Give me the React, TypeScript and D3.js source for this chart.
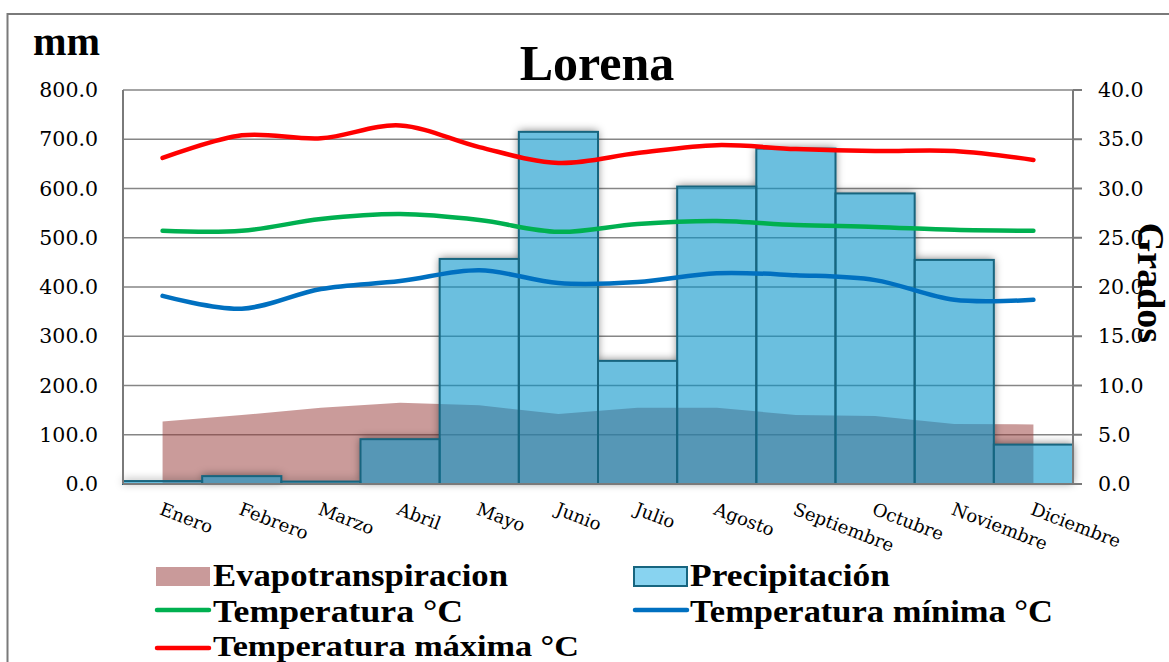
import React from "react";
import * as d3 from "d3";

// Climograma de Lorena: precipitación y evapotranspiración (mm) con temperaturas (°C)
const months = [
  "Enero", "Febrero", "Marzo", "Abril", "Mayo", "Junio",
  "Julio", "Agosto", "Septiembre", "Octubre", "Noviembre", "Diciembre",
];
const precipitacion = [6, 16, 5, 91, 457, 715, 250, 604, 681, 590, 455, 80];
const evapotranspiracion = [127, 140, 155, 165, 160, 142, 155, 155, 140, 138, 122, 121];
const tempMedia = [25.7, 25.7, 26.9, 27.4, 26.8, 25.6, 26.4, 26.7, 26.3, 26.1, 25.8, 25.7];
const tempMinima = [19.1, 17.8, 19.8, 20.6, 21.7, 20.4, 20.5, 21.4, 21.2, 20.7, 18.7, 18.7];
const tempMaxima = [33.1, 35.4, 35.1, 36.4, 34.2, 32.6, 33.6, 34.4, 34.0, 33.8, 33.8, 32.9];
const mmTicks = [0, 100, 200, 300, 400, 500, 600, 700, 800];
const gradosTicks = [0, 5, 10, 15, 20, 25, 30, 35, 40];

const W = 1169;
const H = 662;
const plot = { left: 123, right: 1073, top: 90, bottom: 484 };

const serif = "'Liberation Serif', 'Times New Roman', serif";
const numFont = "'DejaVu Serif', serif";

export default function App() {
  const x = d3
    .scaleBand<string>()
    .domain(months)
    .range([plot.left, plot.right])
    .padding(0);
  const yMm = d3.scaleLinear().domain([0, 800]).range([plot.bottom, plot.top]);
  const yC = d3.scaleLinear().domain([0, 40]).range([plot.bottom, plot.top]);
  const cx = (m: string) => (x(m) as number) + x.bandwidth() / 2;

  const area = d3
    .area<number>()
    .x((_, i) => cx(months[i]))
    .y0(yMm(0))
    .y1((d) => yMm(d));

  const line = d3
    .line<number>()
    .x((_, i) => cx(months[i]))
    .y((d) => yC(d))
    .curve(d3.curveCardinal.tension(0));

  const fmt = d3.format(".1f");

  const bars = precipitacion.map((v, i) => ({
    x: x(months[i]) as number,
    y: yMm(v),
    w: x.bandwidth(),
    h: yMm(0) - yMm(v),
  }));

  const temps = [
    { data: tempMaxima, color: "#FF0000" },
    { data: tempMedia, color: "#00B050" },
    { data: tempMinima, color: "#0070C0" },
  ];

  return (
    <svg
      width={W}
      height={H}
      style={{ position: "absolute", left: 0, top: 0, background: "#fff" }}
    >
      <defs>
        <filter id="sombra" x="-20%" y="-20%" width="140%" height="140%">
          <feGaussianBlur stdDeviation="4" />
        </filter>
        <mask id="fueraBarras" maskUnits="userSpaceOnUse" x="0" y="0" width={W} height={H}>
          <rect x={0} y={0} width={W} height={H} fill="#fff" />
          {bars.map((b, i) => (
            <rect key={i} x={b.x} y={b.y} width={b.w} height={b.h} fill="#000" />
          ))}
        </mask>
      </defs>

      {/* marco exterior */}
      <rect x={7.5} y={14} width={W + 20} height={H + 20} fill="none" stroke="#7a7a7a" strokeWidth={2} />

      {/* líneas de cuadrícula */}
      {mmTicks.map((t) => (
        <line
          key={t}
          x1={plot.left}
          x2={plot.right}
          y1={yMm(t)}
          y2={yMm(t)}
          stroke="#868686"
          strokeWidth={1.5}
        />
      ))}

      {/* evapotranspiración */}
      <path d={area(evapotranspiracion) || ""} fill="#953735" fillOpacity={0.5} />

      {/* sombra de las barras */}
      <g mask="url(#fueraBarras)">
        <g filter="url(#sombra)">
          {bars.map((b, i) => (
            <rect key={i} x={b.x} y={b.y - 1} width={b.w} height={b.h} fill="#000" fillOpacity={0.5} />
          ))}
        </g>
      </g>

      {/* precipitación */}
      {bars.map((b, i) => (
        <rect
          key={i}
          x={b.x}
          y={b.y}
          width={b.w}
          height={b.h}
          fill="rgb(8,148,202)"
          fillOpacity={0.6}
          stroke="#17657f"
          strokeWidth={2}
        />
      ))}

      {/* ejes */}
      <line x1={plot.left} x2={plot.left} y1={plot.top} y2={plot.bottom} stroke="#7a7a7a" strokeWidth={2} />
      <line x1={plot.right} x2={plot.right} y1={plot.top} y2={plot.bottom} stroke="#7a7a7a" strokeWidth={2} />
      <line x1={plot.left} x2={plot.right} y1={plot.bottom} y2={plot.bottom} stroke="#7a7a7a" strokeWidth={2} />
      {gradosTicks.map((t) => (
        <line key={t} x1={plot.right} x2={plot.right + 9} y1={yC(t)} y2={yC(t)} stroke="#7a7a7a" strokeWidth={2} />
      ))}

      {/* temperaturas */}
      {temps.map((s, i) => (
        <path
          key={i}
          d={line(s.data) || ""}
          fill="none"
          stroke={s.color}
          strokeWidth={4.5}
          strokeLinecap="round"
          strokeLinejoin="round"
        />
      ))}

      {/* etiquetas eje mm */}
      {mmTicks.map((t) => (
        <text
          key={t}
          x={98}
          y={yMm(t) + 7}
          textAnchor="end"
          fontFamily={numFont}
          fontSize={20.5}
          fill="#000"
        >
          {fmt(t)}
        </text>
      ))}
      {/* etiquetas eje grados */}
      {gradosTicks.map((t) => (
        <text
          key={t}
          x={1098}
          y={yC(t) + 7}
          textAnchor="start"
          fontFamily={numFont}
          fontSize={20.5}
          fill="#000"
        >
          {fmt(t)}
        </text>
      ))}

      {/* meses */}
      {months.map((m) => {
        const px = cx(m) - 4;
        const py = 514;
        return (
          <text
            key={m}
            x={px}
            y={py}
            transform={`rotate(21 ${px} ${py})`}
            fontFamily={numFont}
            fontSize={18}
            fill="#000"
          >
            {m}
          </text>
        );
      })}

      {/* títulos */}
      <text x={597} y={80} textAnchor="middle" fontFamily={serif} fontWeight="bold" fontSize={50}>
        Lorena
      </text>
      <text x={33} y={55} fontFamily={serif} fontWeight="bold" fontSize={40} textLength={67} lengthAdjust="spacingAndGlyphs">
        mm
      </text>
      <text
        x={1138}
        y={283}
        transform="rotate(90 1138 283)"
        textAnchor="middle"
        fontFamily={serif}
        fontWeight="bold"
        fontSize={38}
      >
        Grados
      </text>

      {/* leyenda */}
      <g fontFamily={serif} fontWeight="bold" fontSize={31}>
        <rect x={156} y={567} width={54} height={19} fill="#c99a9a" />
        <text x={213} y={586} textLength={295} lengthAdjust="spacingAndGlyphs">
          Evapotranspiracion
        </text>
        <rect x={634} y={567} width={53} height={19} fill="#88d3f0" stroke="#17657f" strokeWidth={2} />
        <text x={690} y={586} textLength={200} lengthAdjust="spacingAndGlyphs">
          Precipitación
        </text>
        <line x1={157} x2={209} y1={610} y2={610} stroke="#00B050" strokeWidth={4.5} strokeLinecap="round" />
        <text x={213} y={622} textLength={250} lengthAdjust="spacingAndGlyphs">
          Temperatura °C
        </text>
        <line x1={635} x2={687} y1={610} y2={610} stroke="#0070C0" strokeWidth={4.5} strokeLinecap="round" />
        <text x={690} y={622} textLength={363} lengthAdjust="spacingAndGlyphs">
          Temperatura mínima °C
        </text>
        <line x1={157} x2={209} y1={648} y2={648} stroke="#FF0000" strokeWidth={4.5} strokeLinecap="round" />
        <text x={213} y={656} fontSize={29} textLength={366} lengthAdjust="spacingAndGlyphs">
          Temperatura máxima °C
        </text>
      </g>
    </svg>
  );
}
